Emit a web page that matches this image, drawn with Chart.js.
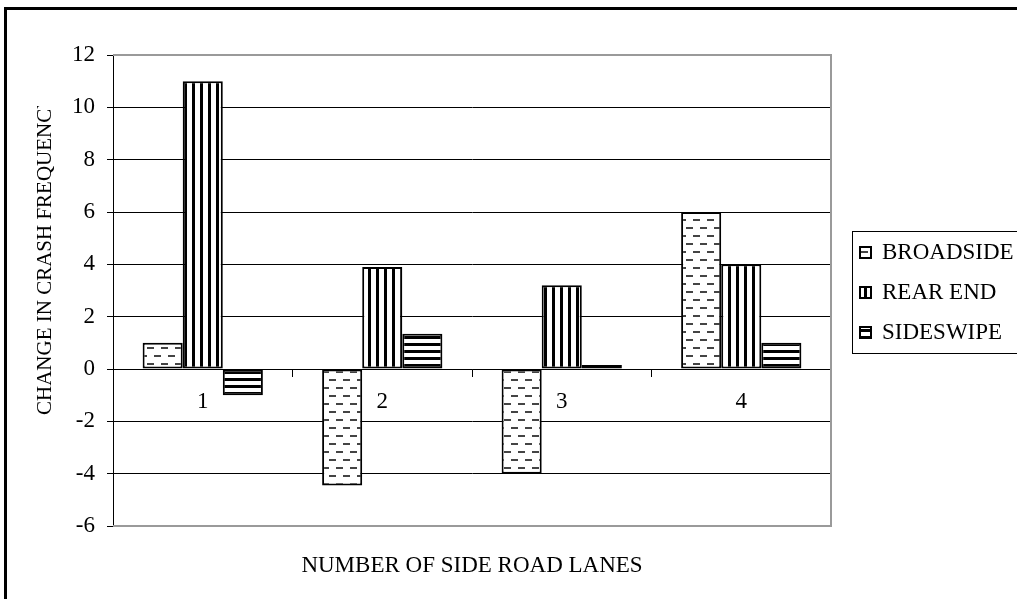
<!DOCTYPE html>
<html>
<head>
<meta charset="utf-8">
<script src="https://cdn.jsdelivr.net/npm/chart.js@4.4.1/dist/chart.umd.min.js"></script>
<style>
  html, body { margin: 0; padding: 0; background: #fff; overflow: hidden; }
  #wrap { position: relative; width: 1017px; height: 599px; }
  #frame { position: absolute; left: 4px; top: 7px; width: 1100px; height: 700px;
           border: 3px solid #000; box-sizing: border-box; pointer-events: none; }
  canvas { position: absolute; left: 0; top: 0; }
</style>
</head>
<body>
<div id="wrap">
  <canvas id="chart" width="1017" height="599"></canvas>
  <div id="frame"></div>
</div>
<script>
// Number of side road lanes (categories)
const categories = ['1', '2', '3', '4'];
// Change in crash frequency by crash type
const broadside = [1, -4.45, -4, 6];
const rearEnd = [11, 3.9, 3.2, 4];
const sideswipe = [-1, 1.35, 0.15, 1];
const seriesNames = ['BROADSIDE', 'REAR END', 'SIDESWIPE'];
// Value axis range
const yMin = -6, yMax = 12, yStep = 2;

const FONT = '"Liberation Serif", "Times New Roman", serif';
const FS = 23;

function makePattern(w, h, paint) {
  const c = document.createElement('canvas');
  c.width = w; c.height = h;
  const g = c.getContext('2d');
  g.fillStyle = '#fff';
  g.fillRect(0, 0, w, h);
  paint(g);
  return g.createPattern(c, 'repeat');
}
// short staggered dashes
const dashFill = makePattern(14, 16, g => {
  g.fillStyle = '#444';
  g.fillRect(0, 3, 7, 2);
  g.fillRect(7, 11, 7, 2);
});
// vertical stripes
const vStripeFill = makePattern(8, 8, g => {
  g.fillStyle = '#000';
  g.fillRect(0, 0, 3, 8);
});
// horizontal stripes
const hStripeFill = makePattern(8, 7, g => {
  g.fillStyle = '#000';
  g.fillRect(0, 0, 8, 3);
});
const fills = [dashFill, vStripeFill, hStripeFill];

const frameAndText = {
  id: 'frameAndText',
  afterDraw(chart) {
    const ctx = chart.ctx;
    const a = chart.chartArea;
    ctx.save();
    // plot area border (top, right, bottom)
    ctx.strokeStyle = '#9a9a9a';
    ctx.lineWidth = 2;
    ctx.beginPath();
    ctx.moveTo(a.left, a.top);
    ctx.lineTo(a.right, a.top);
    ctx.lineTo(a.right, a.bottom);
    ctx.lineTo(a.left, a.bottom);
    ctx.stroke();

    ctx.fillStyle = '#000';
    ctx.font = FS + 'px ' + FONT;
    // category axis title
    ctx.textAlign = 'center';
    ctx.textBaseline = 'middle';
    ctx.fillText('NUMBER OF SIDE ROAD LANES', (a.left + a.right) / 2, 566);

    // value axis title (clipped at the top)
    ctx.save();
    ctx.font = '21px ' + FONT;
    ctx.beginPath();
    ctx.rect(0, 106, 100, 500);
    ctx.clip();
    ctx.translate(45, 415);
    ctx.rotate(-Math.PI / 2);
    ctx.textAlign = 'left';
    ctx.textBaseline = 'middle';
    ctx.fillText('CHANGE IN CRASH FREQUENCY', 0, 0);
    ctx.restore();

    // legend
    const lx = 852, ly = 231, lh = 122;
    ctx.strokeStyle = '#000';
    ctx.lineWidth = 1;
    ctx.strokeRect(lx + 0.5, ly + 0.5, 300, lh);
    chart.data.datasets.forEach((ds, i) => {
      const cy = 252 + i * 40;
      ctx.fillStyle = ds.backgroundColor;
      ctx.fillRect(860, cy - 5, 11, 11);
      ctx.lineWidth = 2;
      ctx.strokeRect(860, cy - 5, 11, 11);
      ctx.fillStyle = '#000';
      ctx.textAlign = 'left';
      ctx.textBaseline = 'middle';
      ctx.fillText(ds.label, 882, cy + 1);
    });
    ctx.restore();
  }
};

const seriesValues = [broadside, rearEnd, sideswipe];

new Chart(document.getElementById('chart'), {
  type: 'bar',
  data: {
    labels: categories,
    datasets: seriesNames.map((name, i) => ({
      label: name,
      data: seriesValues[i],
      backgroundColor: fills[i],
      borderColor: '#000',
      borderWidth: 2,
      borderSkipped: false,
      categoryPercentage: 0.67,
      barPercentage: 1.0
    }))
  },
  options: {
    responsive: false,
    animation: false,
    devicePixelRatio: 1,
    layout: { padding: { left: 0, top: 55, right: 186, bottom: 73 } },
    plugins: { legend: { display: false }, tooltip: { enabled: false } },
    scales: {
      x: {
        position: { y: 0 },
        offset: true,
        grid: { drawOnChartArea: false, drawTicks: true, tickLength: 7, offset: true,
                tickColor: '#000', lineWidth: 1 },
        border: { display: true, color: '#000', width: 1 },
        ticks: { color: '#000', font: { family: FONT, size: FS }, padding: 12 }
      },
      y: {
        min: yMin, max: yMax,
        afterFit(scale) { scale.width = 113; },
        grid: {
          color: ctx => (ctx.tick && (ctx.tick.value === yMax || ctx.tick.value === yMin)) ? '#9a9a9a' : '#000',
          tickColor: '#000', tickLength: 6, lineWidth: 1
        },
        border: { display: true, color: '#000', width: 1 },
        ticks: { stepSize: yStep, color: '#000', font: { family: FONT, size: FS }, padding: 12 }
      }
    }
  },
  plugins: [frameAndText]
});
</script>
</body>
</html>
